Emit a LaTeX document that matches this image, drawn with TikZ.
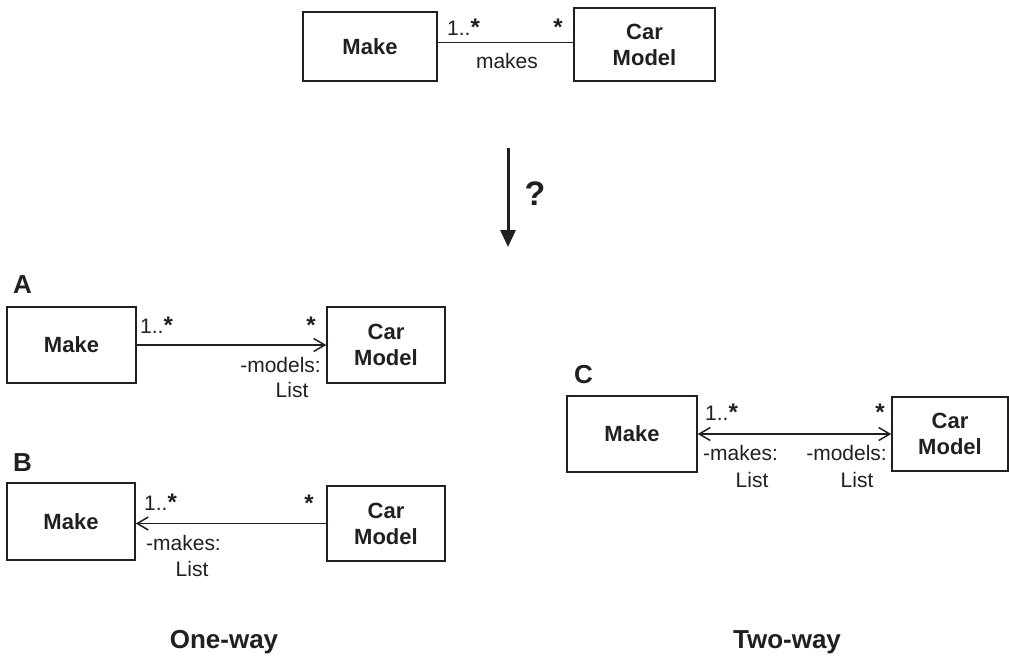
\documentclass[tikz,border=0pt]{standalone}
\usepackage{fontspec}
\setmainfont{Liberation Sans}
\usetikzlibrary{arrows.meta}
\definecolor{ink}{RGB}{35,31,32}
\newcommand{\many}{{\fontsize{24}{24}\selectfont\bfseries *}}

\begin{document}
\begin{tikzpicture}[x=1pt, y=-1pt,
  cls/.style={draw=ink, line width=1.6pt, inner sep=0pt, align=center, text=ink,
    font=\fontsize{22}{26}\selectfont\bfseries},
  lbl/.style={inner sep=0pt, text=ink, font=\fontsize{21}{25}\selectfont},
  tag/.style={inner sep=0pt, text=ink, font=\fontsize{26}{30}\selectfont\bfseries},
  assoc/.style={draw=ink, line width=1.6pt},
  barb/.tip={Straight Barb[length=11pt,width=13pt,line width=1.5pt]},
  nav/.style={-barb},
  navboth/.style={barb-barb}]
  \useasboundingbox (0,0) rectangle (1009,659);

  % the association
  \node[cls, minimum width=134pt, minimum height=69pt] (topmake) at (370,46.5) {Make};
  \node[cls, minimum width=141pt, minimum height=73pt] (topcar) at (644.5,44.5) {Car\\Model};
  \coordinate (toplink) at ([yshift=4pt]topmake.east);
  \draw[assoc] (toplink) -- (toplink -| topcar.west);
  \node[lbl, anchor=base west] (topmin) at (447,35) {1..\many};
  \node[lbl, anchor=base east] (topmax) at (563,35) {\many};
  \node[lbl, anchor=base] (toprole) at (507,68) {makes};

  % which way?
  \coordinate (qfrom) at (508,148);
  \coordinate (qto) at (508,247);
  \draw[ink, line width=3pt, -{Triangle[length=17pt,width=15pt]}] (qfrom) -- (qto);
  \node[anchor=base, text=ink, font=\fontsize{34}{40}\selectfont\bfseries] (qmark) at (535,205) {?};

  % A
  \node[tag, anchor=base west] (taga) at (13,293) {A};
  \node[cls, minimum width=129pt, minimum height=76pt] (amake) at (71.5,345) {Make};
  \node[cls, minimum width=118pt, minimum height=76pt] (acar) at (386,345) {Car\\Model};
  \draw[assoc, nav] (amake) -- (acar);
  \node[lbl, anchor=base west] (amin) at (140,333) {1..\many};
  \node[lbl, anchor=base east] (amax) at (316,333) {\many};
  \node[lbl, anchor=base east] (arole) at (321,372) {-models:};
  \node[lbl, anchor=base] (atype) at (292,397) {List};

  % B
  \node[tag, anchor=base west] (tagb) at (13,471) {B};
  \node[cls, minimum width=128pt, minimum height=77pt] (bmake) at (71,521.5) {Make};
  \node[cls, minimum width=118pt, minimum height=75pt] (bcar) at (386,523.5) {Car\\Model};
  \draw[assoc, nav] (bcar.west) -- (bcar.west -| bmake.east);
  \node[lbl, anchor=base west] (bmin) at (144,510) {1..\many};
  \node[lbl, anchor=base east] (bmax) at (314,511) {\many};
  \node[lbl, anchor=base] (brole) at (183.5,550) {-makes:};
  \node[lbl, anchor=base] (btype) at (192,576) {List};

  % C
  \node[tag, anchor=base west] (tagc) at (574,383) {C};
  \node[cls, minimum width=130pt, minimum height=76pt] (cmake) at (632,434) {Make};
  \node[cls, minimum width=116pt, minimum height=74pt] (ccar) at (950,434) {Car\\Model};
  \draw[assoc, navboth] (cmake) -- (ccar);
  \node[lbl, anchor=base west] (cmin) at (705,420) {1..\many};
  \node[lbl, anchor=base east] (cmax) at (885,420) {\many};
  \node[lbl, anchor=base west] (crole) at (703,460) {-makes:};
  \node[lbl, anchor=base] (ctype) at (752,487) {List};
  \node[lbl, anchor=base east] (crole2) at (887,460) {-models:};
  \node[lbl, anchor=base] (ctype2) at (857,487) {List};

  \node[tag, anchor=base] (oneway) at (224,648) {One-way};
  \node[tag, anchor=base] (twoway) at (787,648) {Two-way};
\end{tikzpicture}
\end{document}
